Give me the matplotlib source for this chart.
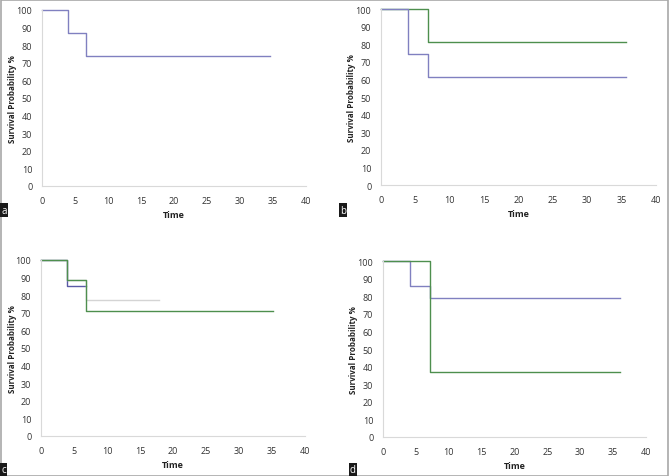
import matplotlib
matplotlib.use("Agg")
import matplotlib.pyplot as plt
from matplotlib.patches import Rectangle

plt.rcParams['font.family'] = ['Open Sans', 'DejaVu Sans']

# ---- data ----
a_blue_t = [0, 3.9, 6.6, 34.5]
a_blue_s = [100, 87, 74, 74]

b_blue_t = [0, 3.9, 6.8, 35.7]
b_blue_s = [100, 74.5, 61.5, 61.5]
b_green_t = [0, 6.8, 35.7]
b_green_s = [100, 81, 81]

c_gray_t = [0, 3.9, 6.8, 17.9]
c_gray_s = [100, 88.5, 77.5, 77.5]
c_green_t = [0, 3.9, 6.8, 35.2]
c_green_s = [100, 88.5, 71, 71]
c_blue_t = [0, 3.9, 6.8]
c_blue_s = [100, 85, 85]

d_blue_t = [0, 4.1, 7.1, 36]
d_blue_s = [100, 86, 79, 79]
d_green_t = [0, 7.1, 36]
d_green_s = [100, 37, 37]

x_ticks = [0, 5, 10, 15, 20, 25, 30, 35, 40]
y_ticks = [0, 10, 20, 30, 40, 50, 60, 70, 80, 90, 100]
panel_letters = ['a', 'b', 'c', 'd']

W, H = 669, 477
fig = plt.figure(figsize=(W / 100, H / 100), dpi=100)

BLUE = '#8080c0'
GREEN = '#4e8f4e'
GRAY = '#d4d4d4'
NAVY = '#5a5aa6'


def px_axes(x0, x1, ytop, ybot):
    return fig.add_axes([x0 / W, (H - ybot) / H, (x1 - x0) / W, (ybot - ytop) / H])


boxes = [(42, 306, 11, 187), (381, 656, 10, 186), (41, 305, 261, 437), (383, 646, 262, 438)]
ylabel_x = [13, 352, 13, 354]
axes = [px_axes(*b) for b in boxes]

series = [
    [(a_blue_t, a_blue_s, BLUE)],
    [(b_green_t, b_green_s, GREEN), (b_blue_t, b_blue_s, BLUE)],
    [(c_blue_t, c_blue_s, NAVY), (c_gray_t, c_gray_s, GRAY), (c_green_t, c_green_s, GREEN)],
    [(d_blue_t, d_blue_s, BLUE), (d_green_t, d_green_s, GREEN)],
]

for ax, ser, b, lx in zip(axes, series, boxes, ylabel_x):
    for t, s, col in ser:
        ax.step(t, s, where='post', color=col, lw=1.0, clip_on=False)
    ax.set_xlim(0, 40)
    ax.set_ylim(0, 100)
    ax.set_xticks(x_ticks)
    ax.set_yticks(y_ticks)
    ax.tick_params(length=0, labelsize=6.5, colors='#333333', pad=7)
    for sp in ['top', 'right']:
        ax.spines[sp].set_visible(False)
    for sp in ['left', 'bottom']:
        ax.spines[sp].set_color('#d9d9d9')
        ax.spines[sp].set_linewidth(0.8)
    ax.set_xlabel('Time', fontsize=6.5, fontweight='bold', labelpad=4, color='#222222')
    ax.set_ylabel('Survival Probability %', fontsize=5.8, fontweight='bold', color='#222222')
    ax.yaxis.set_label_coords((lx - b[0]) / (b[1] - b[0]), 0.5)
    ax.yaxis.label.set_va('center')

# panel letters (black boxes with white letters)
letter_pos = [(1, 211), (340, 211), (1, 471), (350, 471)]
for (lx, ly), lab in zip(letter_pos, panel_letters):
    fig.text(lx / W, (H - ly) / H, lab, fontsize=7, color='white', ha='left', va='center',
             bbox=dict(boxstyle='square,pad=0.15', fc='#1a1a1a', ec='none'))

# outer border
fig.patches.append(Rectangle((0.5 / W, 0.5 / H), (W - 1.5) / W, (H - 1.5) / H,
                             transform=fig.transFigure, fill=False, ec='#a8a8a8', lw=1.2))

fig.savefig('out.png', dpi=100)
